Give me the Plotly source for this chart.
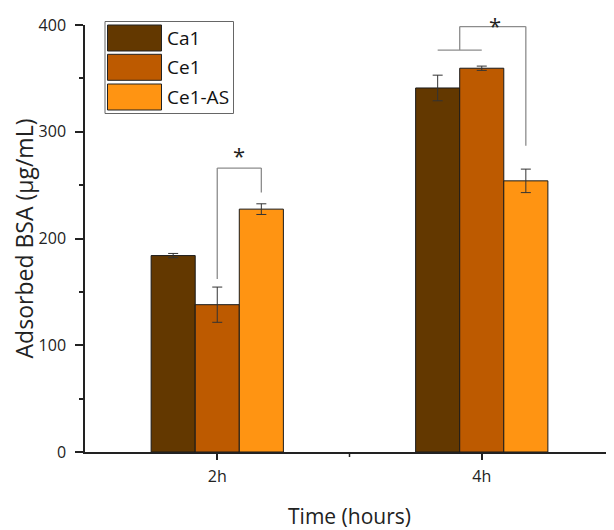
import plotly.graph_objects as go

# ---- data ----
categories = ["2h", "4h"]
series_names = ["Ca1", "Ce1", "Ce1-AS"]
ca1_values = [184, 341]
ce1_values = [138, 359.5]
ce1as_values = [227.5, 254]
ca1_err = [2, 12]
ce1_err = [16.5, 2]
ce1as_err = [5, 11]
colors = ["#633800", "#BD5A00", "#FF9412"]

values = [ca1_values, ce1_values, ce1as_values]
errors = [ca1_err, ce1_err, ce1as_err]

# ---- layout geometry (pixels); page body has an 8px margin ----
OFF = 8
W, H = 606, 522
L, R, T, B = 77, 0, 17, 78
PW, PH = W - L - R, H - T - B


def px(xp):
    """page x pixel -> paper x"""
    return (xp - OFF - L) / PW


def py(yp):
    """page y pixel -> paper y"""
    return (OFF + H - B - yp) / PH


FONT = "Open Sans"
fig = go.Figure()
for name, v, e, c in zip(series_names, values, errors, colors):
    fig.add_trace(go.Bar(
        x=categories, y=v, name=name,
        marker=dict(color=c, line=dict(color="#1a1a1a", width=1)),
        error_y=dict(type="data", array=e, color="#333333", thickness=1, width=5),
        showlegend=False,
    ))

shapes = []
annotations = []
bracket_color = "#8c8c8c"
# 2h bracket: Ce1 vs Ce1-AS
w = 1.0 / 6
for (x0, y0), (x1, y1) in [((0, 162), (0, 266)), ((0, 266), (w, 266)), ((w, 266), (w, 243))]:
    shapes.append(dict(type="line", xref="x", yref="y", x0=x0, y0=y0, x1=x1, y1=y1,
                       line=dict(color=bracket_color, width=1.3)))
annotations.append(dict(x=(0 + w) / 2, y=py(138), xref="x", yref="paper", text="*", showarrow=False,
                        yanchor="top", font=dict(family=FONT, size=22, color="#222")))
# 4h bracket: (Ca1, Ce1) vs Ce1-AS
for (x0, y0), (x1, y1) in [((1 - w, 376.5), (1, 376.5)), ((1 - w / 2, 376.5), (1 - w / 2, 398.5)),
                           ((1 - w / 2, 398.5), (1 + w, 398.5)), ((1 + w, 398.5), (1 + w, 287))]:
    shapes.append(dict(type="line", xref="x", yref="y", x0=x0, y0=y0, x1=x1, y1=y1,
                       line=dict(color=bracket_color, width=1.3)))
annotations.append(dict(x=1.05, y=py(OFF), xref="x", yref="paper", text="*", showarrow=False,
                        yanchor="top", font=dict(family=FONT, size=22, color="#222")))

# minor x tick between categories
shapes.append(dict(type="line", xref="x", yref="paper", x0=0.5, x1=0.5, y0=0, y1=-5 / PH,
                   line=dict(color="#222", width=1.5)))

# custom legend
shapes.append(dict(type="rect", xref="paper", yref="paper", x0=px(105), x1=px(233.5),
                   y0=py(113.5), y1=py(21.5), line=dict(color="#666", width=1), fillcolor="white"))
sw_top = [25, 54.3, 84]
for name, c, yt in zip(series_names, colors, sw_top):
    shapes.append(dict(type="rect", xref="paper", yref="paper", x0=px(107.5), x1=px(161.5),
                       y0=py(yt + 26), y1=py(yt), line=dict(color="#222", width=1), fillcolor=c))
    annotations.append(dict(x=px(165), y=py(yt + 13), xref="paper", yref="paper", text=name,
                            showarrow=False, xanchor="left", yanchor="middle",
                            font=dict(family=FONT, size=19, color="#111")))

fig.update_layout(
    width=W, height=H,
    margin=dict(l=L, r=R, t=T, b=B),
    paper_bgcolor="white", plot_bgcolor="white",
    barmode="group", bargap=0.5, bargroupgap=0,
    shapes=shapes, annotations=annotations,
    font=dict(family=FONT, color="#222"),
    xaxis=dict(type="category", range=[-0.5, 1.5], showline=True, linecolor="#222", linewidth=1.5,
               automargin=False,
               ticks="outside", ticklen=6, tickcolor="#222", tickwidth=1.5,
               ticklabelstandoff=3,
               tickfont=dict(family=FONT, size=16, color="#222"),
               title=dict(text="Time (hours)", font=dict(family=FONT, size=21, color="#222"), standoff=24),
               showgrid=False, zeroline=False),
    yaxis=dict(range=[0, 400], dtick=100, showline=True, linecolor="#222", linewidth=1.5,
               automargin=False,
               ticks="outside", ticklen=8, tickcolor="#222", tickwidth=1.5,
               ticklabelstandoff=6,
               minor=dict(dtick=50, ticks="outside", ticklen=4, tickcolor="#222", tickwidth=1.5),
               tickfont=dict(family=FONT, size=16, color="#222"),
               title=dict(text="Adsorbed BSA (µg/mL)", font=dict(family=FONT, size=23, color="#222"), standoff=11),
               showgrid=False, zeroline=False),
)

fig.write_html("out.html")
